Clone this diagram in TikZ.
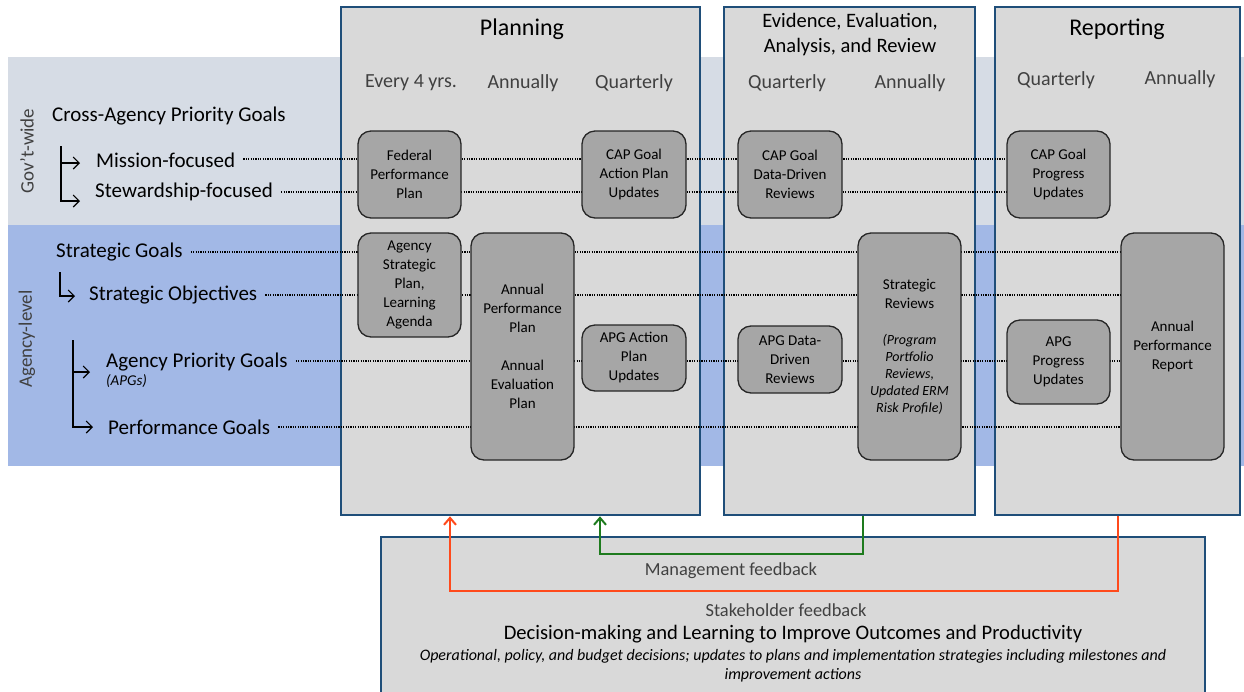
\documentclass[tikz,border=0pt]{standalone}
\usepackage{fontspec}
\setmainfont{Carlito}
\usetikzlibrary{arrows.meta}
\pgfdeclarelayer{back}
\pgfdeclarelayer{mid}
\pgfsetlayers{back,mid,main}
\definecolor{govband}{HTML}{D6DCE5}
\definecolor{agyband}{HTML}{A2B8E6}
\definecolor{panelfill}{HTML}{D9D9D9}
\definecolor{paneledge}{HTML}{1F4E79}
\definecolor{boxfill}{HTML}{A6A6A6}
\definecolor{boxedge}{HTML}{262626}
\definecolor{mgmtgreen}{HTML}{1E7B1E}
\definecolor{stakered}{HTML}{FF4A1C}
\definecolor{freqgray}{HTML}{404040}
\newcommand\note[1]{{\fontsize{14}{17}\selectfont\itshape #1}}
\tikzset{
	panel/.style={draw=paneledge,fill=panelfill,line width=2.6pt},
	stagebox/.style={draw=boxedge,fill=boxfill,line width=1.3pt,rounded corners=13pt,align=center,inner sep=0pt,font=\fontsize{15}{19}\selectfont},
	head/.style={font=\fontsize{24}{28}\selectfont},
	freq/.style={font=\fontsize{20}{24}\selectfont,text=freqgray},
	lev/.style={anchor=west,inner sep=0pt,font=\fontsize{21}{24}\selectfont},
	band/.style={rotate=90,font=\fontsize{19}{23}\selectfont,text=freqgray},
	dotline/.style={line width=1.2pt,dash pattern=on 1.2pt off 1.2pt,shorten <=8pt},
	tree/.style={-{Straight Barb[length=6pt,width=12pt]},line width=1.1pt},
	mgmt/.style={-{Straight Barb[length=7pt,width=12pt]},line width=2pt,draw=mgmtgreen},
	stake/.style={-{Straight Barb[length=7pt,width=12pt]},line width=2pt,draw=stakered},
	fb/.style={font=\fontsize{18.4}{22}\selectfont,text=freqgray}
}
\begin{document}
\begin{tikzpicture}[x=1pt,y=-1pt]
	\useasboundingbox (0,0) rectangle (1244,691);
	\begin{pgfonlayer}{back}
		\fill[govband] (8,57) rectangle (1244,225);
		\fill[agyband] (8,225) rectangle (1244,466);
		\node[panel,minimum width=359pt,minimum height=508pt] (plan) at (520.5,261) {};
		\node[panel,minimum width=251pt,minimum height=508pt] (evid) at (849.5,261) {};
		\node[panel,minimum width=245pt,minimum height=508pt] (rep) at (1117.5,261) {};
		\node[panel,minimum width=824pt,minimum height=156pt] (dec) at (793,615) {};
	\end{pgfonlayer}

	\node[head] (planh) at (522,29) {Planning};
	\node[head,font=\fontsize{20.5}{25}\selectfont,align=center] (evidh) at (850,35) {Evidence, Evaluation,\\Analysis, and Review};
	\node[head] (reph) at (1117,29) {Reporting};

	\node[freq] (p4y) at (411,83) {Every 4 yrs.};
	\node[freq] (pann) at (523,83) {Annually};
	\node[freq] (pqtr) at (634,83) {Quarterly};
	\node[freq] (eqtr) at (787,83) {Quarterly};
	\node[freq] (eann) at (910,83) {Annually};
	\node[freq] (rqtr) at (1056,80) {Quarterly};
	\node[freq] (rann) at (1180,79) {Annually};

	\node[band] (gov) at (27,151) {Gov't-wide};
	\node[band] (agy) at (27,339) {Agency-level};

	\node[lev] (cap) at (52,116) {Cross-Agency Priority Goals};
	\node[lev] (mis) at (96,160) {Mission-focused};
	\node[lev] (stew) at (95,192) {Stewardship-focused};
	\node[lev] (sg) at (56,252) {Strategic Goals};
	\node[lev] (so) at (89,295) {Strategic Objectives};
	\node[lev] (apg) at (106,362) {Agency Priority Goals};
	\node[lev,font=\fontsize{15}{18}\selectfont\itshape] (apgnote) at (106,381) {(APGs)};
	\node[lev] (pg) at (108,427) {Performance Goals};

	\coordinate (gtop) at (61,146);
	\coordinate (stop) at (60,272);
	\coordinate (atop) at (73,340);
	\draw[tree] (gtop) |- ([xshift=-16pt,yshift=-3pt]mis.west);
	\draw[tree] (gtop) |- ([xshift=-15pt,yshift=-9pt]stew.west);
	\draw[tree] (stop) |- ([xshift=-14pt,yshift=-1pt]so.west);
	\draw[tree] (atop) |- ([xshift=-16pt,yshift=-10pt]apg.west);
	\draw[tree] (atop) |- ([xshift=-15pt]pg.west);

	\node[stagebox,minimum width=103pt,minimum height=87pt] (fpp) at (409.5,174.5) {Federal\\Performance\\Plan};
	\node[stagebox,minimum width=104pt,minimum height=87pt] (capap) at (634,174.5) {CAP Goal\\Action Plan\\Updates};
	\node[stagebox,minimum width=103pt,minimum height=104pt] (asp) at (409.5,285) {Agency\\Strategic\\Plan,\\Learning\\Agenda};
	\node[stagebox,minimum width=103pt,minimum height=227pt] (app) at (522.5,346.5) {Annual\\Performance\\Plan\\[19pt]Annual\\Evaluation\\Plan};
	\node[stagebox,minimum width=104pt,minimum height=66pt] (apgap) at (634,358) {APG Action\\Plan\\Updates};
	\node[stagebox,minimum width=104pt,minimum height=87pt] (capdd) at (790,174.5) {CAP Goal\\Data-Driven\\Reviews};
	\node[stagebox,minimum width=104pt,minimum height=67pt] (apgdd) at (790,359.5) {APG Data-\\Driven\\Reviews};
	\node[stagebox,minimum width=103pt,minimum height=227pt] (sr) at (909.5,346.5) {Strategic\\Reviews\\[17pt]\note{(Program}\\[-2pt]\note{Portfolio}\\[-2pt]\note{Reviews,}\\[-2pt]\note{Updated ERM}\\[-2pt]\note{Risk Profile)}};
	\node[stagebox,minimum width=103pt,minimum height=87pt] (cappu) at (1058.5,174.5) {CAP Goal\\Progress\\Updates};
	\node[stagebox,minimum width=103pt,minimum height=84pt] (apgpu) at (1058.5,362) {APG\\Progress\\Updates};
	\node[stagebox,minimum width=103pt,minimum height=227pt] (apr) at (1172.5,346.5) {Annual\\Performance\\Report};

	\begin{pgfonlayer}{mid}
		\draw[dotline] ([yshift=1pt]mis.east) -- ([yshift=1pt]mis.east -| cappu.west);
		\draw[dotline] (stew.east) -- (stew.east -| cappu.west);
		\draw[dotline] (sg.east) -- (sg.east -| apr.west);
		\draw[dotline] (so.east) -- (so.east -| apr.west);
		\draw[dotline] ([yshift=1pt]apg.east) -- ([yshift=1pt]apg.east -| apr.west);
		\draw[dotline] (pg.east) -- (pg.east -| apr.west);
	\end{pgfonlayer}

	\draw[mgmt] ([xshift=13.5pt]evid.south) -- ++(0,38) -| ([xshift=79.5pt]plan.south);
	\draw[stake] (rep.south) -- ++(0,75) -| ([xshift=-70.5pt]plan.south);

	\node[fb] (mfb) at (731,571) {Management feedback};
	\node[fb] (sfb) at (786,610) {Stakeholder feedback};
	\node[font=\fontsize{20.6}{24}\selectfont] (dml) at (793,634) {Decision-making and Learning to Improve Outcomes and Productivity};
	\node[font=\fontsize{16}{19}\selectfont\itshape,align=center] (ops) at (793,666) {Operational, policy, and budget decisions; updates to plans and implementation strategies including milestones and\\improvement actions};
\end{tikzpicture}
\end{document}
